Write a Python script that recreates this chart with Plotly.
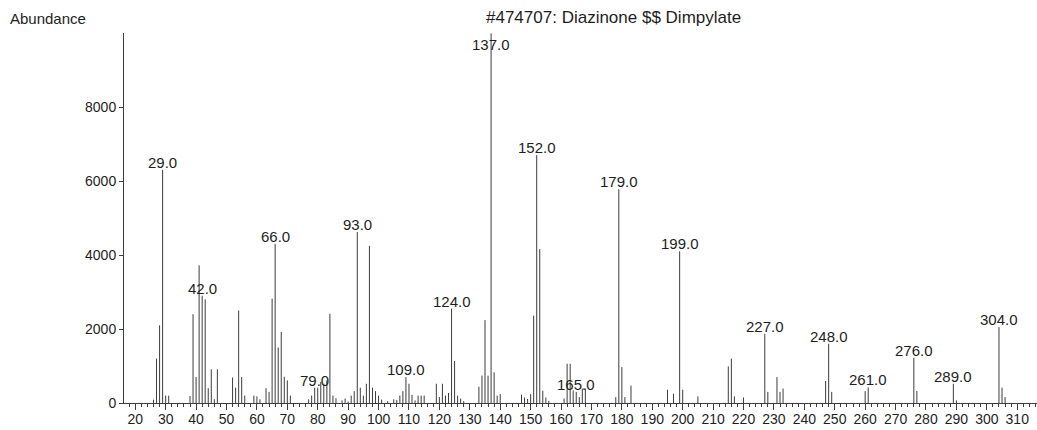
import plotly.graph_objects as go

# Mass spectrum of Diazinone (library entry #474707)
mz = [26, 27, 28, 29, 30, 31, 38, 39, 40, 41, 42, 43, 44, 45, 46, 47,
      52, 53, 54, 55, 56, 59, 60, 61, 63, 64, 65, 66, 67, 68, 69, 70, 71,
      77, 78, 79, 80, 81, 82, 83, 84, 85, 86, 88, 89, 90, 91, 92, 93, 94,
      95, 96, 97, 98, 99, 100, 101, 103, 105, 106, 107, 108, 109, 110, 111,
      112, 113, 114, 115, 119, 120, 121, 122, 123, 124, 125, 126, 127, 128,
      133, 134, 135, 136, 137, 138, 139, 140, 147, 148, 149, 150, 151, 152,
      153, 154, 155, 156, 161, 162, 163, 164, 165, 166, 167, 168, 178, 179,
      180, 181, 183, 195, 197, 199, 200, 205, 215, 216, 217, 220, 227, 228,
      231, 232, 233, 247, 248, 249, 260, 261, 276, 277, 289, 290, 304, 305,
      306]
abundance = [90, 1200, 2100, 6300, 200, 200, 190, 2400, 700, 3720, 2900, 2800,
             400, 910, 100, 910,
             690, 415, 2500, 700, 200, 200, 180, 100, 400, 300, 2820, 4300,
             1500, 1920, 710, 610, 200,
             100, 200, 415, 415, 570, 520, 610, 2410, 200, 130, 70, 120, 40,
             200, 320, 4620, 415,
             200, 520, 4250, 415, 320, 200, 90, 50, 100, 80, 200, 320, 700,
             520, 220,
             70, 200, 200, 200, 520, 160, 520, 200, 270, 2550, 1135, 200, 120,
             50,
             440, 740, 2240, 740, 9990, 830, 200, 240, 225, 150, 108, 240,
             2360, 6700,
             4160, 330, 150, 60, 120, 1060, 1060, 340, 300, 160, 390, 390, 160,
             5780,
             970, 160, 470, 360, 250, 4100, 360, 180, 990, 1200, 180, 150,
             1870, 300,
             700, 300, 390, 595, 1600, 300, 320, 420, 1225, 325, 520, 70, 2050,
             415,
             160]
labelled = [29, 42, 66, 79, 93, 109, 124, 137, 152, 165, 179, 199, 227, 248,
            261, 276, 289, 304]
y_ticks = [0, 2000, 4000, 6000, 8000]
title_text = "#474707: Diazinone $$ Dimpylate"
y_title = "Abundance"

LINE = "#3c3c3c"
TEXT = "#1e1e1e"
FONT = "Arial, Liberation Sans, sans-serif"

# stick spectrum: one vertical segment per m/z
xs, ys = [], []
for m, a in zip(mz, abundance):
    xs += [m, m, None]
    ys += [0, a, None]

fig = go.Figure(go.Scatter(x=xs, y=ys, mode="lines",
                           line=dict(color=LINE, width=1),
                           hoverinfo="skip", showlegend=False))

value_of = dict(zip(mz, abundance))
label_cap = 9500  # keeps the base peak's label inside the frame, under the title
for m in labelled:
    fig.add_annotation(x=m, y=min(value_of[m], label_cap), text=f"{m:.1f}",
                       showarrow=False, xanchor="center", yanchor="bottom",
                       yshift=-3, font=dict(family=FONT, size=15, color=TEXT))

fig.add_annotation(xref="paper", yref="paper", x=-0.127, y=1.04,
                   xanchor="left", yanchor="middle", text=y_title,
                   showarrow=False, font=dict(family=FONT, size=15, color=TEXT))
fig.add_annotation(xref="paper", yref="paper", x=0.536, y=1.043,
                   xanchor="center", yanchor="middle", text=title_text,
                   showarrow=False, font=dict(family=FONT, size=17, color=TEXT))

fig.update_layout(
    width=1037, height=430,
    margin=dict(l=124, r=0, t=33, b=27),
    paper_bgcolor="white", plot_bgcolor="white",
    font=dict(family=FONT, size=14, color=TEXT),
    xaxis=dict(range=[16.3, 316.5], tick0=20, dtick=10, ticks="outside",
               ticklen=6, tickwidth=1, tickcolor=LINE, showline=True,
               linecolor=LINE, linewidth=1, showgrid=False, zeroline=False,
               ticklabelstandoff=-3,
               minor=dict(dtick=2, tick0=20, ticks="outside", ticklen=3,
                          tickcolor=LINE, showgrid=False),
               tickfont=dict(family=FONT, size=14, color=TEXT)),
    yaxis=dict(range=[0, 10000], tickvals=y_ticks, ticks="outside", ticklen=4,
               tickwidth=1, tickcolor=LINE, showline=True, linecolor=LINE,
               linewidth=1, showgrid=False, zeroline=False,
               tickfont=dict(family=FONT, size=14, color=TEXT)),
)

fig.write_html("out.html")
